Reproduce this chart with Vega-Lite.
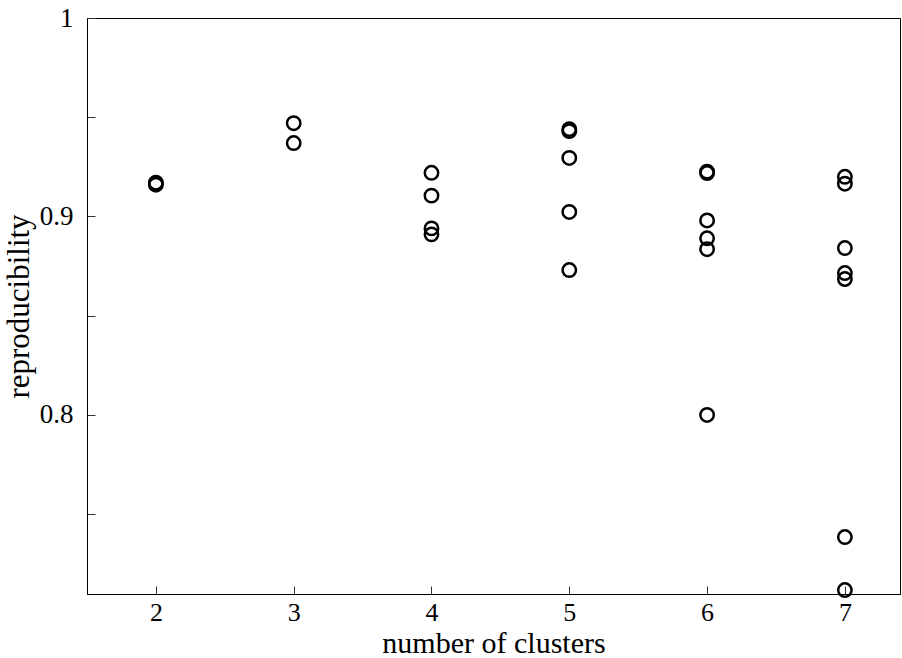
{
  "$schema": "https://vega.github.io/schema/vega-lite/v6.json",
  "width": 813,
  "height": 576,
  "autosize": {"type": "none"},
  "padding": {"left": 87, "top": 18, "right": 2, "bottom": 64},
  "background": "white",
  "config": {
    "view": {"stroke": "#000000", "strokeWidth": 1},
    "font": "Liberation Serif"
  },
  "data": {
    "values": [
      {"clusters": 2, "reproducibility": 0.917},
      {"clusters": 2, "reproducibility": 0.916},
      {"clusters": 3, "reproducibility": 0.947},
      {"clusters": 3, "reproducibility": 0.937},
      {"clusters": 4, "reproducibility": 0.922},
      {"clusters": 4, "reproducibility": 0.9105},
      {"clusters": 4, "reproducibility": 0.894},
      {"clusters": 4, "reproducibility": 0.891},
      {"clusters": 5, "reproducibility": 0.944},
      {"clusters": 5, "reproducibility": 0.943},
      {"clusters": 5, "reproducibility": 0.9295},
      {"clusters": 5, "reproducibility": 0.9023},
      {"clusters": 5, "reproducibility": 0.873},
      {"clusters": 6, "reproducibility": 0.9226},
      {"clusters": 6, "reproducibility": 0.9219},
      {"clusters": 6, "reproducibility": 0.898},
      {"clusters": 6, "reproducibility": 0.889},
      {"clusters": 6, "reproducibility": 0.8835},
      {"clusters": 6, "reproducibility": 0.8},
      {"clusters": 7, "reproducibility": 0.92},
      {"clusters": 7, "reproducibility": 0.9165},
      {"clusters": 7, "reproducibility": 0.8841},
      {"clusters": 7, "reproducibility": 0.8715},
      {"clusters": 7, "reproducibility": 0.8685},
      {"clusters": 7, "reproducibility": 0.7385},
      {"clusters": 7, "reproducibility": 0.7118}
    ]
  },
  "mark": {"type": "point", "shape": "circle", "filled": false, "color": "#000000", "size": 180, "strokeWidth": 2.5, "opacity": 1, "clip": false},
  "encoding": {
    "x": {
      "field": "clusters",
      "type": "quantitative",
      "scale": {"domain": [1.5, 7.4], "nice": false, "zero": false},
      "axis": {
        "title": "number of clusters",
        "values": [2, 3, 4, 5, 6, 7],
        "grid": false,
        "domainColor": "#000000",
        "tickColor": "#333333",
        "tickSize": -8,
        "labelPadding": 13,
        "labelFontSize": 26,
        "labelColor": "#000000",
        "titleFontSize": 30,
        "titleFontWeight": "normal",
        "titleColor": "#000000",
        "titlePadding": 3
      }
    },
    "y": {
      "field": "reproducibility",
      "type": "quantitative",
      "scale": {"domain": [0.7098, 1], "nice": false, "zero": false},
      "axis": {
        "title": "reproducibility",
        "values": [0.75, 0.8, 0.85, 0.9, 0.95, 1],
        "labelExpr": "round(datum.value*100) % 10 == 0 ? (datum.value == 1 ? '1' : format(datum.value, '.1f')) : ''",
        "grid": false,
        "domainColor": "#000000",
        "tickColor": "#333333",
        "tickSize": -8,
        "labelPadding": 22,
        "labelFontSize": 27,
        "labelColor": "#000000",
        "labelFlush": false,
        "titleFontSize": 31,
        "titleFontWeight": "normal",
        "titleColor": "#000000",
        "titlePadding": 4
      }
    }
  }
}
